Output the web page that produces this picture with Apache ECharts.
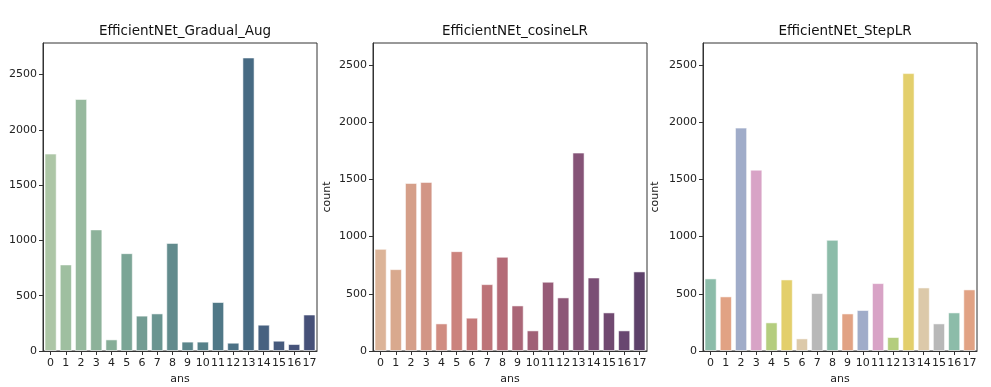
<!DOCTYPE html>
<html>
<head>
<meta charset="utf-8">
<script src="https://cdn.jsdelivr.net/npm/echarts@6/dist/echarts.min.js"></script>
<style>
html,body{margin:0;padding:0;background:#fff;}
#chart{width:991px;height:387px;}
</style>
</head>
<body>
<div id="chart"></div>
<script>
const categories = ['0','1','2','3','4','5','6','7','8','9','10','11','12','13','14','15','16','17'];
const titles = ['EfficientNEt_Gradual_Aug', 'EfficientNEt_cosineLR', 'EfficientNEt_StepLR'];
const gradualAug = [1786, 783, 2280, 1100, 105, 885, 320, 340, 978, 85, 85, 443, 75, 2655, 238, 93, 63, 330];
const cosineLR = [892, 715, 1468, 1477, 241, 872, 291, 584, 823, 398, 180, 605, 468, 1733, 642, 337, 180, 695];
const stepLR = [634, 477, 1951, 1584, 250, 625, 110, 506, 971, 328, 358, 593, 122, 2427, 555, 241, 337, 538];
const yTicks = [0, 500, 1000, 1500, 2000, 2500];
const yMax = [2786, 2690, 2690];
const xName = 'ans';
const yNames = ['', 'count', 'count'];

// styles
const crest = ['#adc6a6','#9fbfa0','#97b99e','#8db29a','#86ad97','#7ba596','#739c93','#6a9591','#628b8d','#5b868b','#568189','#507887','#4b7185','#476a83','#476180','#465a7d','#46537a','#465078'];
const flare = ['#dcb498','#d9a98e','#d59f89','#d29585','#d08c81','#cb837d','#c47a7a','#bd7378','#b46b77','#aa6677','#a06076','#975b77','#8d5777','#855377','#7b4e75','#704970','#684670','#5d416a'];
const set2 = ['#8cbca9','#e1a284','#a0acc9','#d8a3c6','#b4cd7e','#e3cf6c','#dcc9a9','#b8b8b8'];
const palettes = [crest, flare, set2];
const seriesData = [gradualAug, cosineLR, stepLR];

const FONT = 'DejaVu Sans';
const gridLefts = [43, 373, 703];
const gridW = 274, gridTop = 43, gridH = 308;
const nameGaps = [0, 40, 42];

const chart = echarts.init(document.getElementById('chart'), null, {renderer: 'canvas'});
const option = {
  animation: false,
  backgroundColor: '#fff',
  title: titles.map((t, i) => ({
    text: t,
    left: gridLefts[i] + gridW / 2,
    top: 19,
    textAlign: 'center',
    textStyle: {fontFamily: FONT, fontSize: 13.5, fontWeight: 'normal', color: '#111'}
  })),
  grid: gridLefts.map(l => ({
    left: l, top: gridTop, width: gridW, height: gridH,
    containLabel: false, outerBoundsMode: 'none',
    show: true, borderColor: '#333', borderWidth: 1, backgroundColor: 'transparent'
  })),
  xAxis: gridLefts.map((l, i) => ({
    type: 'category', gridIndex: i, data: categories,
    name: xName, nameLocation: 'middle', nameGap: 22,
    nameTextStyle: {fontFamily: FONT, fontSize: 11, color: '#222'},
    axisLine: {show: true, lineStyle: {color: '#333', width: 1}},
    axisTick: {show: true, alignWithLabel: true, length: 4, lineStyle: {color: '#333'}},
    axisLabel: {fontFamily: FONT, fontSize: 11, color: '#222', margin: 7, interval: 0},
    splitLine: {show: false}
  })),
  yAxis: gridLefts.map((l, i) => ({
    type: 'value', gridIndex: i, min: 0, max: yMax[i], interval: 500,
    name: yNames[i], nameLocation: 'middle', nameGap: nameGaps[i],
    nameTextStyle: {fontFamily: FONT, fontSize: 11, color: '#222'},
    axisLine: {show: true, lineStyle: {color: '#333', width: 1}},
    axisTick: {show: true, length: 4, lineStyle: {color: '#333'}, customValues: yTicks},
    axisLabel: {fontFamily: FONT, fontSize: 11, color: '#222', margin: 6, customValues: yTicks,
                formatter: v => String(v)},
    splitLine: {show: false}
  })),
  series: seriesData.map((d, i) => ({
    type: 'bar', xAxisIndex: i, yAxisIndex: i,
    barCategoryGap: '20%',
    data: d.map((v, j) => ({
      value: v,
      itemStyle: {color: palettes[i][j % palettes[i].length], borderColor: 'rgba(255,255,255,0.55)', borderWidth: 1}
    }))
  }))
};
chart.setOption(option);
</script>
</body>
</html>
